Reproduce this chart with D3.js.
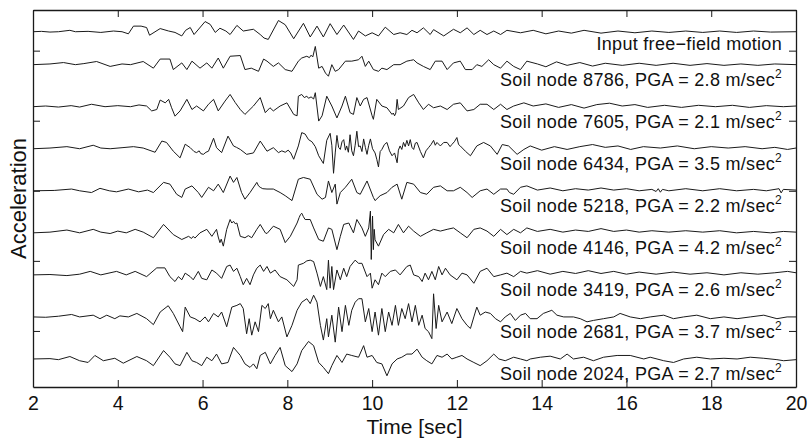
<!DOCTYPE html>
<html>
<head>
<meta charset="utf-8">
<script src="https://cdn.jsdelivr.net/npm/d3@7"></script>
<style>
  body { margin: 0; background: #fff; }
  text { font-family: "Liberation Sans", Arial, Helvetica, sans-serif; fill: #111; }
</style>
</head>
<body>
<svg id="chart" width="809" height="438"></svg>
<script>
// time axis ticks [sec]
const timeTicks = [2, 4, 6, 8, 10, 12, 14, 16, 18, 20];
// unlabeled ticks on the acceleration axis
const levelTicks = [8, 18, 28, 38, 48];

// trace order top -> bottom
const nodeIds = [null, 8786, 7605, 6434, 5218, 4146, 3419, 2681, 2024];
const pgaValues = [null, 2.8, 2.1, 3.5, 2.2, 4.2, 2.6, 3.7, 2.7];
const traceOffsets = [50.7, 46, 40, 34, 28, 22, 16, 10, 4];

// [time (s), acceleration (m/s^2)]
const inputMotion = [[2,0],[2.2,0.05],[2.4,-0.05],[2.6,0],[2.87,0.2],[3,0],[3.3,0.05],[3.6,-0.1],[3.9,0.1],[4.1,0],[4.25,-0.3],[4.37,0.8],[4.55,0.8],[4.68,0.6],[4.75,-0.5],[5,0.45],[5.2,0.1],[5.35,-0.1],[5.51,-0.6],[5.6,0.2],[5.71,0.6],[5.8,-0.4],[6.06,1.45],[6.18,1.05],[6.3,-0.1],[6.41,0.5],[6.55,0.1],[6.65,-0.4],[6.81,0.9],[6.96,0.1],[7.2,0.35],[7.36,-0.4],[7.45,-0.9],[7.55,-1.1],[7.79,1.6],[7.95,1],[8.15,-1],[8.38,1.2],[8.54,-0.75],[8.7,0.8],[8.85,-0.75],[9.01,1.15],[9.17,-0.4],[9.33,0.95],[9.56,-1.1],[9.68,0.1],[9.84,-0.6],[10,-0.15],[10.15,-0.6],[10.31,0.65],[10.51,-0.4],[10.66,-0.15],[10.82,-0.4],[10.94,0.2],[11.06,-0.15],[11.21,0.55],[11.37,-0.4],[11.45,0.3],[11.69,-0.6],[11.92,0.35],[12.08,-0.15],[12.24,0.55],[12.4,-0.4],[12.55,0.2],[12.71,-0.4],[12.87,0.1],[13.03,-0.4],[13.18,0.2],[13.5,-0.15],[13.8,0.2],[14.1,-0.3],[14.4,0.1],[14.7,-0.2],[15,0.2],[15.4,-0.2],[15.8,0.1],[16.2,-0.15],[16.6,0.1],[17,-0.1],[17.4,0.1],[17.8,-0.1],[18.2,0.1],[18.6,-0.1],[19,0.1],[19.4,-0.05],[20,0]];

const node8786 = [[2,0],[2.4,0.1],[2.72,0.3],[3,0],[3.2,0.15],[3.5,0.45],[3.82,-0.25],[4.1,0.1],[4.3,0],[4.6,0.45],[4.84,-0.5],[5,0.8],[5.23,0.8],[5.31,-0.7],[5.51,0.25],[5.63,-0.7],[5.75,0.5],[5.94,-0.5],[6.1,0.25],[6.22,-0.5],[6.37,0.95],[6.49,-0.5],[6.65,1.2],[6.89,1.3],[7,-0.7],[7.15,-0.5],[7.32,-0.95],[7.44,0.8],[7.52,0.5],[7.67,-0.25],[7.79,0.25],[7.95,-0.7],[8.11,-0.95],[8.26,0.5],[8.34,0.95],[8.46,1.2],[8.52,1],[8.56,1.35],[8.6,1.1],[8.66,2.6],[8.74,-0.5],[8.82,-0.25],[8.9,-1.2],[8.97,-1.65],[9.05,0],[9.13,-0.95],[9.21,-0.7],[9.37,0.5],[9.52,0.5],[9.68,0.7],[9.76,1.2],[9.84,-0.25],[9.92,0.5],[10.03,-0.7],[10.15,-0.95],[10.23,-0.5],[10.35,-0.7],[10.51,0],[10.66,0],[10.82,0.5],[10.9,0.6],[10.98,0.7],[11.06,0.25],[11.21,-0.25],[11.37,-0.7],[11.49,0.5],[11.65,0.5],[11.77,-0.7],[11.92,0.25],[12.08,0.5],[12.2,-0.7],[12.36,-0.7],[12.47,0],[12.59,-0.25],[12.75,0.7],[12.87,0],[13.03,-0.5],[13.18,0.5],[13.34,-0.25],[13.5,-0.7],[13.65,0.5],[13.9,0.1],[14.1,-0.3],[14.35,0.4],[14.6,-0.1],[14.9,0.3],[15.2,-0.2],[15.5,0.2],[15.9,-0.1],[16.3,0.2],[16.7,-0.1],[17.1,0.2],[17.5,-0.1],[17.9,0.15],[18.3,-0.1],[18.7,0.1],[19.1,-0.1],[19.5,0.1],[20,0]];

const node7605 = [[2,0],[2.3,0.1],[2.6,-0.05],[2.9,0.15],[3.1,-0.05],[3.38,0.35],[3.7,0],[4,0.15],[4.3,0],[4.5,0.25],[4.68,0.1],[4.8,-0.6],[4.92,-0.4],[5,0.95],[5.12,0.55],[5.2,1.05],[5.27,-0.15],[5.35,-1.35],[5.47,-0.6],[5.63,1.05],[5.75,-0.4],[5.86,0.1],[6.02,-0.6],[6.14,0.35],[6.26,1.05],[6.37,-0.6],[6.53,0.8],[6.65,1.75],[6.77,0.6],[6.89,-0.4],[7,-1.1],[7.2,0.1],[7.36,1.3],[7.48,-0.85],[7.59,-0.15],[7.67,-0.6],[7.83,0.1],[7.99,0.55],[8.15,-1.1],[8.23,-1.3],[8.26,1.5],[8.34,1.75],[8.4,1.3],[8.46,1.5],[8.5,1.2],[8.56,1.4],[8.62,1.1],[8.66,2],[8.74,-2.05],[8.82,-1.3],[8.93,1.5],[9.05,0.1],[9.17,-1.6],[9.29,0.1],[9.37,1.5],[9.48,-0.85],[9.56,-1.1],[9.64,1.3],[9.72,0.1],[9.8,1.05],[9.88,1.3],[10,-1.3],[10.03,-1.8],[10.11,1.05],[10.23,0.1],[10.35,-0.15],[10.47,-1.1],[10.5,-0.9],[10.53,-1.3],[10.56,-0.9],[10.59,1.05],[10.62,-0.4],[10.74,0.1],[10.86,1.3],[10.98,1.75],[11.1,0.55],[11.21,-0.4],[11.33,0.35],[11.45,-0.15],[11.61,0.1],[11.77,-0.4],[11.92,0.35],[12.08,0.55],[12.24,-0.6],[12.4,-0.4],[12.55,0.35],[12.71,0.35],[12.87,-0.4],[13.03,0.35],[13.18,-0.4],[13.34,0.1],[13.58,0.55],[13.8,0.1],[14.1,0.4],[14.4,-0.1],[14.7,0.3],[15,-0.2],[15.3,0.3],[15.6,0.5],[15.9,0.1],[16.2,0.3],[16.5,-0.1],[16.9,0.2],[17.3,-0.1],[17.7,0.2],[18.1,0],[18.5,0.2],[18.9,-0.1],[19.3,0.15],[19.7,0],[20,0.1]];

const node6434 = [[2,0],[2.4,0.1],[2.8,0.3],[3.1,0],[3.42,0.5],[3.6,0.1],[3.82,0],[4.1,0.15],[4.37,0.3],[4.6,0.1],[4.88,-0.5],[5.04,1.1],[5.15,0.9],[5.31,-0.35],[5.47,-1.3],[5.59,0.65],[5.71,0.15],[5.8,-0.4],[5.86,-0.55],[5.92,-0.3],[5.96,-0.7],[6.02,-0.8],[6.08,-0.5],[6.14,-0.35],[6.26,1.5],[6.33,0.15],[6.45,-0.55],[6.6,1.8],[6.73,0.4],[6.8,0.2],[6.89,-0.1],[7.04,-0.8],[7.2,-0.6],[7.36,1.1],[7.52,-0.35],[7.67,0.15],[7.79,-0.55],[7.87,-0.3],[7.95,-0.5],[8.02,-0.2],[8.08,-0.6],[8.15,-1.5],[8.26,0.4],[8.34,2.3],[8.42,2.1],[8.5,1.3],[8.58,1],[8.66,0.3],[8.74,-1],[8.8,-1.6],[8.85,-2.1],[8.93,1.2],[9.01,2.2],[9.05,0.5],[9.09,-3.5],[9.13,-0.6],[9.17,1.9],[9.21,0.2],[9.25,-0.1],[9.29,1],[9.33,1.3],[9.37,-0.2],[9.4,0.4],[9.44,-0.5],[9.48,2],[9.52,-0.3],[9.56,-1],[9.6,0.5],[9.64,2.5],[9.68,0.3],[9.72,0.4],[9.76,-0.4],[9.8,1.4],[9.84,0.2],[9.88,-0.8],[9.92,0.5],[9.96,1.4],[10.01,0],[10.07,-0.6],[10.11,-1.5],[10.15,-2.6],[10.19,-0.4],[10.23,-0.1],[10.29,0.6],[10.35,0.9],[10.41,-0.3],[10.47,-1],[10.53,-0.6],[10.59,-2],[10.62,-0.2],[10.66,0.4],[10.7,-0.1],[10.74,0.9],[10.78,0.3],[10.82,1.2],[10.86,0.4],[10.9,1.3],[10.94,0.2],[10.98,-0.1],[11.02,0.8],[11.06,0.9],[11.14,-0.4],[11.21,-1.3],[11.27,-0.3],[11.33,0.15],[11.39,0.6],[11.45,1.2],[11.49,0.5],[11.53,0.9],[11.61,0.4],[11.69,0.9],[11.77,0.9],[11.84,0.3],[11.88,0.6],[11.94,1],[12,1.6],[12.04,0.6],[12.08,0.4],[12.2,-0.35],[12.32,-1],[12.47,0.4],[12.63,0.9],[12.79,0.4],[12.95,-0.8],[13.07,0.6],[13.22,0.4],[13.42,-0.8],[13.58,-0.1],[13.73,0.4],[14,-0.2],[14.3,0.3],[14.6,-0.1],[14.9,0.3],[15.2,0.6],[15.5,0.2],[15.8,0.4],[16.1,-0.1],[16.4,0.3],[16.8,0.1],[17.2,0.4],[17.6,0],[18,0.3],[18.4,0.1],[18.8,0.3],[19.2,0],[19.5,0.2],[19.8,-0.1],[20,0.1]];

const node5218 = [[2,0],[2.5,0.05],[2.91,0.25],[3.1,0],[3.38,-0.25],[3.58,0.35],[3.8,0],[3.97,-0.15],[4.25,0.25],[4.49,-0.15],[4.7,0.1],[4.84,-0.25],[5.08,1.2],[5.23,0.95],[5.39,-0.5],[5.51,-0.95],[5.59,0.25],[5.75,0.7],[5.9,-0.25],[5.98,-0.95],[6.14,0.5],[6.26,0],[6.37,0.95],[6.49,-0.25],[6.65,2.1],[6.73,1.2],[6.81,1.9],[6.92,-0.25],[7,-1.2],[7.12,-0.25],[7.28,1.2],[7.32,0.7],[7.36,0.5],[7.42,0.3],[7.52,0.25],[7.67,0.25],[7.83,-0.25],[7.95,-0.7],[8.11,-1.4],[8.26,1.65],[8.38,1.9],[8.54,1.65],[8.7,-0.5],[8.82,-1.2],[8.9,-0.95],[8.97,1.4],[9.05,-0.25],[9.13,0.95],[9.17,-1.9],[9.25,-0.25],[9.37,0.5],[9.52,1.65],[9.64,-0.25],[9.72,-0.5],[9.88,1.4],[10.03,-0.95],[10.07,-1.4],[10.19,-0.7],[10.35,-0.25],[10.47,0.5],[10.59,0.95],[10.7,-1.2],[10.82,1.2],[10.98,0.95],[11.14,-0.25],[11.29,-0.5],[11.45,0.5],[11.61,0.7],[11.77,0],[11.92,0],[12.08,0.5],[12.24,-0.25],[12.36,-0.95],[12.55,0],[12.71,0.25],[12.87,-0.5],[13.03,0.25],[13.18,0.25],[13.24,-0.25],[13.34,-0.5],[13.5,0.5],[13.65,0.7],[13.9,0.1],[14.2,0.4],[14.5,0],[14.8,0.3],[15.1,0.1],[15.4,0.4],[15.7,0.1],[16,0.3],[16.3,0],[16.6,0.2],[16.7,-0.1],[16.75,0.3],[16.8,-0.2],[16.85,0.2],[17,0],[17.4,0.3],[17.8,0],[18.2,0.3],[18.6,0],[19,0.2],[19.3,0],[19.6,0.3],[19.65,-0.3],[19.7,0.2],[20,0.1]];

const node4146 = [[2,0],[2.4,0.1],[2.8,0.4],[3.1,0],[3.42,0.5],[3.6,0.1],[3.82,-0.1],[4,0.25],[4.2,0],[4.41,0.5],[4.6,0.1],[4.84,-0.7],[5.08,1.2],[5.31,-0.25],[5.51,-0.95],[5.67,-0.5],[5.74,-0.8],[5.78,-0.5],[5.82,-0.75],[5.94,0],[6.1,0.5],[6.22,-0.5],[6.33,0.5],[6.37,-0.6],[6.41,-1.4],[6.44,-0.9],[6.49,-1.9],[6.57,0.5],[6.65,1.9],[6.69,1.4],[6.73,1.65],[6.77,1.3],[6.81,1.4],[6.89,-0.5],[7,-0.7],[7.08,-0.4],[7.16,-0.7],[7.28,0.5],[7.36,1.2],[7.48,0],[7.52,-0.1],[7.67,0.95],[7.83,0.5],[7.95,-1.4],[8.07,-0.5],[8.23,1.4],[8.28,2.2],[8.31,2.6],[8.34,2.8],[8.38,2.3],[8.42,1.9],[8.54,1.9],[8.62,0.7],[8.74,-0.95],[8.85,-1.2],[8.97,0.7],[9.05,0.5],[9.17,-2.4],[9.25,-0.5],[9.33,1.2],[9.45,1.4],[9.56,0],[9.64,1.9],[9.76,0.7],[9.84,-0.5],[9.92,0.7],[9.96,3.1],[9.98,-3.8],[10.01,2.4],[10.03,-2.4],[10.05,0.5],[10.07,-1],[10.15,-1.9],[10.27,-0.25],[10.39,0.5],[10.51,0],[10.62,1.2],[10.74,0],[10.86,0.95],[10.98,0.25],[11.14,-0.5],[11.29,0],[11.45,0.5],[11.61,0.25],[11.77,0.5],[11.92,0.7],[12.08,0],[12.24,-0.7],[12.4,0.5],[12.55,0.7],[12.71,0.25],[12.87,-0.5],[13.03,0.5],[13.18,-0.25],[13.34,0.5],[13.5,0],[13.65,0.7],[13.9,0.2],[14.2,0.5],[14.5,0.1],[14.8,0.4],[15.1,0.2],[15.4,0.6],[15.7,0.2],[16,0.4],[16.3,0.1],[16.6,0.3],[17,0.1],[17.4,0.3],[17.8,0.1],[18.2,0.3],[18.6,0],[19,0.2],[19.4,0],[19.7,0.2],[20,0.1]];

const node3419 = [[2,0],[2.4,0.05],[2.8,-0.1],[3.1,0.1],[3.35,0.5],[3.6,0],[3.97,0.5],[4.2,0],[4.41,0.5],[4.68,-0.25],[4.92,1],[5.11,1],[5.23,-0.25],[5.35,-0.95],[5.43,-0.25],[5.51,-0.7],[5.59,0.25],[5.71,-0.25],[5.78,-0.7],[5.9,0.5],[5.98,-0.5],[6.1,-0.7],[6.22,0.7],[6.33,0.25],[6.45,-0.5],[6.57,1.2],[6.65,1.4],[6.73,0.5],[6.81,0.95],[6.89,-0.25],[6.96,-1.4],[7.04,-0.5],[7.12,-1.4],[7.2,0],[7.28,0.95],[7.36,1.4],[7.44,0.5],[7.52,1.2],[7.6,0.25],[7.71,0.7],[7.83,-0.25],[7.99,-0.7],[8.15,-1.65],[8.23,-0.7],[8.26,1.4],[8.38,1.65],[8.46,2],[8.54,2.1],[8.62,1.9],[8.7,0.25],[8.78,-1.65],[8.85,-0.25],[8.93,-2.1],[8.97,2.1],[9.01,-1.9],[9.05,1.2],[9.09,-2.1],[9.17,0.7],[9.25,-0.7],[9.33,0.95],[9.4,-0.25],[9.48,1.2],[9.6,2.1],[9.68,1.65],[9.76,1.65],[9.88,-0.25],[9.96,0.25],[10,-1.9],[10.07,-0.7],[10.15,-1.4],[10.23,0.25],[10.31,-0.25],[10.43,0.5],[10.55,0.7],[10.66,0],[10.82,1.2],[10.9,1.4],[10.98,0],[11.1,-0.25],[11.18,-0.95],[11.25,0.25],[11.33,-0.7],[11.41,0.5],[11.49,-0.7],[11.57,1.2],[11.65,0],[11.73,0.95],[11.84,0],[12,-0.7],[12.12,0.25],[12.24,0],[12.4,-1.2],[12.55,0.5],[12.71,0.95],[12.87,-0.25],[13.03,0],[13.18,0.25],[13.34,-0.25],[13.5,0.5],[13.65,0.25],[13.9,0.6],[14.2,0.1],[14.5,0.5],[14.8,0.2],[15.1,0.6],[15.4,0.2],[15.7,0.5],[16,0.1],[16.3,0.4],[16.7,0.1],[17.1,0.4],[17.5,0.1],[17.9,0.3],[18.3,0],[18.7,0.3],[19.1,0.1],[19.5,0.3],[19.8,0.5],[20,0.3]];

const node2681 = [[2,0],[2.3,-0.05],[2.6,0.1],[2.91,0.35],[3.1,0],[3.42,0.25],[3.58,-0.25],[3.74,0.25],[3.93,-0.25],[4.05,0.15],[4.25,0],[4.45,0.5],[4.68,-0.25],[4.84,-1.1],[5,0.7],[5.19,1.6],[5.31,0.5],[5.47,-1.4],[5.53,-2.1],[5.59,1.4],[5.71,0],[5.82,-0.25],[5.94,-0.7],[6.06,0],[6.14,-0.7],[6.26,0.5],[6.37,0],[6.45,0.7],[6.57,-1.4],[6.69,1.4],[6.81,1.65],[6.89,1.9],[6.96,1.2],[7.04,-2.4],[7.1,-0.25],[7.16,-2.6],[7.24,-0.7],[7.32,-2.1],[7.4,1.65],[7.48,1.2],[7.55,1.9],[7.6,-0.25],[7.67,0.95],[7.79,-0.7],[7.87,0],[7.99,-2.85],[8.11,-1.2],[8.23,0.95],[8.34,2.1],[8.46,2.6],[8.54,1.9],[8.62,3.1],[8.7,2.1],[8.78,-1.2],[8.85,-3.3],[8.93,-0.25],[8.97,-2.85],[9.05,0.25],[9.13,-3.6],[9.21,1.4],[9.29,-2.1],[9.37,1.65],[9.45,-1.2],[9.52,0.95],[9.6,2.1],[9.68,2.6],[9.76,2.6],[9.84,-0.7],[9.92,1.2],[10,-2.1],[10.07,0.7],[10.15,-2.6],[10.23,1.2],[10.31,-2.1],[10.39,0.7],[10.47,-1.2],[10.55,1.65],[10.62,-1.2],[10.7,1.2],[10.78,-0.25],[10.86,1.9],[10.94,-0.7],[11.02,1.65],[11.1,-1.2],[11.18,0.25],[11.25,-1.65],[11.33,-2.1],[11.41,-3.1],[11.45,3.3],[11.51,-1.65],[11.57,1.65],[11.65,-0.7],[11.77,0.7],[11.88,-0.95],[12,1.2],[12.12,-0.25],[12.24,-1.2],[12.32,-1.65],[12.4,0],[12.47,1.4],[12.55,0.25],[12.67,0.7],[12.79,0.5],[12.91,-0.25],[13.03,-0.7],[13.14,0],[13.26,0.5],[13.38,-0.5],[13.5,0.25],[13.62,0.5],[13.73,-0.25],[13.89,-0.25],[14.04,0.5],[14.24,0.95],[14.36,0.25],[14.52,0],[14.75,0],[14.91,-0.25],[15.07,-0.7],[15.22,-0.5],[15.46,-0.25],[15.7,0],[15.85,0.5],[16.09,0],[16.33,-0.25],[16.56,0],[16.88,0.25],[17.11,-0.25],[17.35,0],[17.66,0.25],[17.98,-0.25],[18.3,0],[18.61,-0.25],[18.92,0],[19.24,0.25],[19.55,-0.25],[19.79,0],[20,0]];

const node2024 = [[2,0],[2.4,0.05],[2.6,-0.1],[2.87,0.35],[3.1,-0.25],[3.3,-0.5],[3.46,0.5],[3.66,-0.25],[3.93,0.1],[4.13,-0.6],[4.45,0.35],[4.68,-0.25],[4.84,-0.95],[5.08,1.2],[5.23,0.25],[5.35,-0.7],[5.47,-0.95],[5.63,0.95],[5.75,-0.25],[5.86,-0.5],[5.98,-0.95],[6.1,0.25],[6.22,-0.25],[6.33,0.7],[6.45,-0.7],[6.6,-0.5],[6.73,1.65],[6.89,0.5],[7,-0.7],[7.12,-1.2],[7.2,-0.7],[7.28,-1.4],[7.36,0.5],[7.48,0.95],[7.6,-0.7],[7.71,0.5],[7.83,1.65],[7.95,-0.95],[8.11,-1.8],[8.23,-0.7],[8.34,1.2],[8.5,2.5],[8.62,1.9],[8.74,-0.5],[8.85,-1.2],[8.97,-2.1],[9.05,-0.95],[9.17,0.5],[9.29,-0.5],[9.4,0.7],[9.52,0.5],[9.68,0.25],[9.8,1.9],[9.88,0.25],[10,0.5],[10.11,-0.5],[10.23,-0.7],[10.35,-2.4],[10.47,-0.7],[10.59,0],[10.7,0.25],[10.82,0.7],[10.94,0.7],[11.06,1.4],[11.18,0.25],[11.29,-0.25],[11.41,-0.7],[11.53,0.5],[11.65,0.25],[11.77,0.7],[11.88,0],[12,0.25],[12.12,0.5],[12.24,0],[12.4,-0.5],[12.55,-0.95],[12.71,-0.25],[12.87,0.7],[12.99,0],[13.14,-0.25],[13.34,0.25],[13.5,0],[13.65,-0.25],[13.73,0],[13.97,0.25],[14.2,0.4],[14.44,0],[14.6,0.7],[14.75,0],[14.99,0.25],[15.22,-0.25],[15.46,0.25],[15.78,0.5],[16.09,0.5],[16.41,0],[16.56,0.25],[16.88,-0.25],[17.11,-0.5],[17.35,0],[17.66,0.25],[17.98,0],[18.3,0.1],[18.61,0],[18.92,0.25],[19.24,0.1],[19.55,-0.1],[19.71,-0.25],[20,-0.1]];

const records = [inputMotion, node8786, node7605, node6434, node5218, node4146, node3419, node2681, node2024];

const margin = { top: 10, right: 13, bottom: 51, left: 33 };
const width = 809 - margin.left - margin.right;
const height = 438 - margin.top - margin.bottom;

const svg = d3.select('#chart');
const chart = svg.append('g').attr('transform', `translate(${margin.left},${margin.top})`);

const x = d3.scaleLinear().domain([2, 20]).range([0, width]);
const y = d3.scaleLinear().domain([0, 53.8]).range([height, 0]);

const tickLen = 7;

// traces
const line = (offset) => d3.line().x(d => x(d[0])).y(d => y(offset + d[1]));
chart
  .selectAll('path.trace')
  .data(records)
  .enter()
  .append('path')
  .attr('class', 'trace')
  .attr('d', (d, i) => line(traceOffsets[i])(d))
  .attr('fill', 'none')
  .attr('stroke', '#1a1a1a')
  .attr('stroke-width', 1)
  .attr('stroke-linejoin', 'round');

// axes: ticks pointing inward on all four sides
const bottomAxis = chart.append('g').attr('transform', `translate(0,${height})`)
  .call(d3.axisBottom(x).tickValues(timeTicks).tickSizeInner(-tickLen).tickSizeOuter(0).tickPadding(9));
const topAxis = chart.append('g')
  .call(d3.axisTop(x).tickValues(timeTicks).tickSizeInner(-tickLen).tickSizeOuter(0).tickFormat(''));
const leftAxis = chart.append('g')
  .call(d3.axisLeft(y).tickValues(levelTicks).tickSizeInner(-tickLen).tickSizeOuter(0).tickFormat(''));
const rightAxis = chart.append('g').attr('transform', `translate(${width},0)`)
  .call(d3.axisRight(y).tickValues(levelTicks).tickSizeInner(-tickLen).tickSizeOuter(0).tickFormat(''));

[bottomAxis, topAxis, leftAxis, rightAxis].forEach(a => {
  a.select('.domain').attr('stroke', '#1a1a1a').attr('stroke-width', 1.3);
  a.selectAll('.tick line').attr('stroke', '#1a1a1a').attr('stroke-width', 1);
});
bottomAxis.selectAll('.tick text')
  .attr('font-size', '19.5px')
  .attr('fill', '#111')
  .attr('font-family', '"Liberation Sans", Arial, sans-serif');

// record labels
const labels = chart
  .selectAll('text.rec')
  .data(records)
  .enter()
  .append('text')
  .attr('class', 'rec')
  .attr('x', width - 14)
  .attr('y', (d, i) => y(traceOffsets[i]) + (i === 0 ? 18 : 21))
  .attr('text-anchor', 'end')
  .attr('font-size', '18px')
  .attr('letter-spacing', '0.3px');

labels.each(function (d, i) {
  const t = d3.select(this);
  if (i === 0) {
    t.text('Input free\u2212field motion');
    return;
  }
  t.append('tspan').text(`Soil node ${nodeIds[i]}, PGA = ${pgaValues[i].toFixed(1)} m/sec`);
  t.append('tspan').attr('dy', -8).attr('font-size', '12px').text('2');
});

// axis titles
svg.append('text')
  .attr('x', margin.left + width / 2)
  .attr('y', 434)
  .attr('text-anchor', 'middle')
  .attr('font-size', '21px')
  .text('Time [sec]');

svg.append('text')
  .attr('transform', `translate(26,${margin.top + height / 2}) rotate(-90)`)
  .attr('text-anchor', 'middle')
  .attr('font-size', '22px')
  .text('Acceleration');
</script>
</body>
</html>
